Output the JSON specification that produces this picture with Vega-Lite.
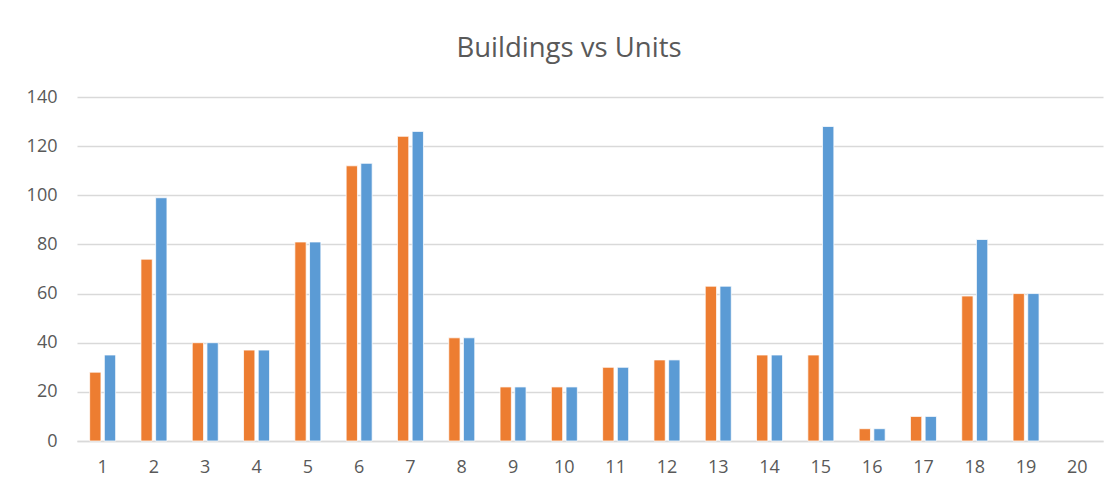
{
  "$schema": "https://vega.github.io/schema/vega-lite/v6.json",
  "autosize": {"type": "none"},
  "padding": {"left": 77, "top": 97, "right": 16, "bottom": 46},
  "width": 1026,
  "height": 344,
  "background": "white",
  "title": {
    "text": "Buildings vs Units",
    "font": "Open Sans",
    "fontSize": 27.5,
    "fontWeight": "normal",
    "color": "#595959",
    "anchor": "middle",
    "dx": -21,
    "offset": 26
  },
  "data": {
    "values": [
      {"n": 1, "series": "Buildings", "value": 28}, {"n": 1, "series": "Units", "value": 35},
      {"n": 2, "series": "Buildings", "value": 74}, {"n": 2, "series": "Units", "value": 99},
      {"n": 3, "series": "Buildings", "value": 40}, {"n": 3, "series": "Units", "value": 40},
      {"n": 4, "series": "Buildings", "value": 37}, {"n": 4, "series": "Units", "value": 37},
      {"n": 5, "series": "Buildings", "value": 81}, {"n": 5, "series": "Units", "value": 81},
      {"n": 6, "series": "Buildings", "value": 112}, {"n": 6, "series": "Units", "value": 113},
      {"n": 7, "series": "Buildings", "value": 124}, {"n": 7, "series": "Units", "value": 126},
      {"n": 8, "series": "Buildings", "value": 42}, {"n": 8, "series": "Units", "value": 42},
      {"n": 9, "series": "Buildings", "value": 22}, {"n": 9, "series": "Units", "value": 22},
      {"n": 10, "series": "Buildings", "value": 22}, {"n": 10, "series": "Units", "value": 22},
      {"n": 11, "series": "Buildings", "value": 30}, {"n": 11, "series": "Units", "value": 30},
      {"n": 12, "series": "Buildings", "value": 33}, {"n": 12, "series": "Units", "value": 33},
      {"n": 13, "series": "Buildings", "value": 63}, {"n": 13, "series": "Units", "value": 63},
      {"n": 14, "series": "Buildings", "value": 35}, {"n": 14, "series": "Units", "value": 35},
      {"n": 15, "series": "Buildings", "value": 35}, {"n": 15, "series": "Units", "value": 128},
      {"n": 16, "series": "Buildings", "value": 5}, {"n": 16, "series": "Units", "value": 5},
      {"n": 17, "series": "Buildings", "value": 10}, {"n": 17, "series": "Units", "value": 10},
      {"n": 18, "series": "Buildings", "value": 59}, {"n": 18, "series": "Units", "value": 82},
      {"n": 19, "series": "Buildings", "value": 60}, {"n": 19, "series": "Units", "value": 60}
    ]
  },
  "mark": {"type": "bar", "stroke": "white", "strokeWidth": 0.75},
  "encoding": {
    "x": {
      "field": "n",
      "type": "ordinal",
      "scale": {"domain": [1,2,3,4,5,6,7,8,9,10,11,12,13,14,15,16,17,18,19,20], "paddingInner": 0.493, "paddingOuter": 0.2465},
      "axis": {
        "title": null,
        "labelAngle": 0,
        "labelFont": "Open Sans",
        "labelFontSize": 18,
        "labelColor": "#595959",
        "labelPadding": 17,
        "ticks": false,
        "domainColor": "#D9D9D9",
        "domainWidth": 1.5,
        "grid": false
      }
    },
    "xOffset": {
      "field": "series",
      "type": "nominal",
      "sort": ["Buildings", "Units"],
      "scale": {"paddingInner": 0.23, "paddingOuter": 0}
    },
    "y": {
      "field": "value",
      "type": "quantitative",
      "scale": {"domain": [0, 140], "nice": false},
      "axis": {
        "title": null,
        "values": [0, 20, 40, 60, 80, 100, 120, 140],
        "labelFont": "Open Sans",
        "labelFontSize": 18,
        "labelColor": "#595959",
        "labelPadding": 20,
        "ticks": false,
        "domain": false,
        "gridColor": "#D9D9D9",
        "gridWidth": 1.3
      }
    },
    "color": {
      "field": "series",
      "type": "nominal",
      "scale": {"domain": ["Buildings", "Units"], "range": ["#ED7D31", "#5B9BD5"]},
      "legend": null
    }
  },
  "config": {"view": {"stroke": null}}
}
